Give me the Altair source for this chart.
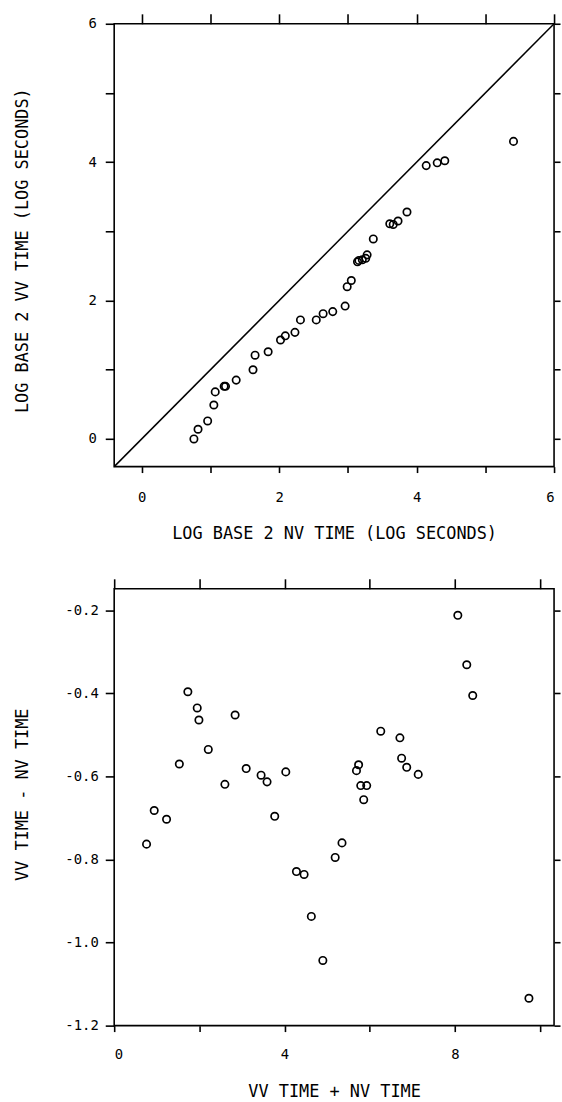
import altair as alt
import pandas as pd

# ---- Data ----
# Top panel: log2 NV time (x) vs log2 VV time (y)
nv_log = [0.76, 0.82, 0.96, 1.05, 1.07, 1.20, 1.22, 1.375, 1.62, 1.65, 1.84,
          2.02, 2.09, 2.23, 2.31, 2.54, 2.64, 2.78, 2.96, 2.99, 3.05, 3.14,
          3.16, 3.21, 3.26, 3.28, 3.37, 3.61, 3.66, 3.73, 3.86, 4.14, 4.30,
          4.41, 5.41]
vv_log = [0.00, 0.14, 0.26, 0.49, 0.68, 0.76, 0.76, 0.85, 1.00, 1.21, 1.26,
          1.43, 1.49, 1.54, 1.72, 1.72, 1.81, 1.84, 1.92, 2.20, 2.29, 2.56,
          2.58, 2.59, 2.61, 2.66, 2.89, 3.11, 3.10, 3.15, 3.28, 3.95, 3.99,
          4.02, 4.30]
# identity line endpoints (y = x)
diag = [-0.4, 6.0]

# Bottom panel: VV + NV (x) vs VV - NV (y)
sum_time = [0.76, 0.94, 1.23, 1.53, 1.73, 1.95, 1.99, 2.21, 2.60, 2.84, 3.10,
            3.45, 3.59, 3.77, 4.03, 4.28, 4.46, 4.63, 4.90, 5.19, 5.35, 5.69,
            5.74, 5.79, 5.86, 5.93, 6.26, 6.71, 6.75, 6.87, 7.14, 8.07, 8.28,
            8.42, 9.74]
diff_time = [-0.763, -0.682, -0.703, -0.570, -0.396, -0.435, -0.464, -0.535,
             -0.619, -0.452, -0.581, -0.597, -0.613, -0.696, -0.589, -0.829,
             -0.836, -0.937, -1.043, -0.795, -0.760, -0.586, -0.572, -0.622,
             -0.656, -0.622, -0.491, -0.507, -0.556, -0.578, -0.595, -0.212,
             -0.331, -0.405, -1.134]

top_ticks = [0, 1, 2, 3, 4, 5, 6]
bot_x_ticks = [0, 2, 4, 6, 8, 10]
bot_y_ticks = [-1.2, -1.0, -0.8, -0.6, -0.4, -0.2]

FONT = "DejaVu Sans Mono"

top_df = pd.DataFrame({"nv": nv_log, "vv": vv_log})
line_df = pd.DataFrame({"a": diag, "b": diag})
bot_df = pd.DataFrame({"s": sum_time, "d": diff_time})

W1, H1 = 443, 446
W2, H2 = 443, 440

base_axis = dict(grid=False, domain=False, tickColor="black", tickWidth=1.6,
                 labelFont=FONT, labelFontSize=14, labelColor="black",
                 titleFont=FONT, titleFontSize=17, titleColor="black",
                 titleFontWeight="normal")

xs1 = alt.Scale(domain=[-0.4, 6], nice=False, zero=False)
ys1 = alt.Scale(domain=[-0.4, 6], nice=False, zero=False)

even_expr = "datum.value % 2 === 0 ? datum.label : ''"

top_points = alt.Chart(top_df).mark_point(
    shape="circle", filled=False, color="black", size=55, strokeWidth=1.7, opacity=1
).encode(
    x=alt.X("nv:Q", scale=xs1, axis=alt.Axis(
        orient="bottom", values=top_ticks, labelExpr=even_expr, tickSize=6,
        labelPadding=18, title="LOG BASE 2 NV TIME (LOG SECONDS)",
        titleY=67, titleBaseline="middle", titleAlign="center", titleX=W1 / 2,
        **base_axis)),
    y=alt.Y("vv:Q", scale=ys1, axis=alt.Axis(
        orient="left", values=top_ticks, labelExpr=even_expr, tickSize=9,
        labelPadding=9, title="LOG BASE 2 VV TIME (LOG SECONDS)",
        titleX=-92, titleY=228, titleAngle=270, titleBaseline="middle",
        titleAlign="center", **base_axis)),
)

top_line = alt.Chart(line_df).mark_line(color="black", strokeWidth=1.5).encode(
    x=alt.X("a:Q", scale=xs1, axis=alt.Axis(
        orient="top", values=top_ticks, labels=False, tickSize=10, title=None,
        **base_axis)),
    y=alt.Y("b:Q", scale=ys1, axis=alt.Axis(
        orient="right", values=top_ticks, labels=False, tickSize=6, title=None,
        **base_axis)),
)

top = alt.layer(top_points, top_line).resolve_axis(
    x="independent", y="independent").properties(width=W1, height=H1)

xs2 = alt.Scale(domain=[0, 10.33], nice=False, zero=False)
ys2 = alt.Scale(domain=[-1.2, -0.148], nice=False, zero=False)

bot_points = alt.Chart(bot_df).mark_point(
    shape="circle", filled=False, color="black", size=55, strokeWidth=1.7, opacity=1
).encode(
    x=alt.X("s:Q", scale=xs2, axis=alt.Axis(
        orient="bottom", values=bot_x_ticks,
        labelExpr="datum.value % 4 === 0 ? datum.label : ''", tickSize=6,
        labelPadding=16, title="VV TIME + NV TIME",
        titleY=66, titleBaseline="middle", titleAlign="center", titleX=W2 / 2,
        **base_axis)),
    y=alt.Y("d:Q", scale=ys2, axis=alt.Axis(
        orient="left", values=bot_y_ticks, format=".1f",
        labelExpr="replace(datum.label, '\u2212', '-')", tickSize=9,
        labelPadding=7, title="VV TIME - NV TIME",
        titleX=-92, titleY=207, titleAngle=270, titleBaseline="middle",
        titleAlign="center", **base_axis)),
)

bot_frame = alt.Chart(bot_df).mark_point(opacity=0).encode(
    x=alt.X("s:Q", scale=xs2, axis=alt.Axis(
        orient="top", values=bot_x_ticks, labels=False, tickSize=10, title=None,
        **base_axis)),
    y=alt.Y("d:Q", scale=ys2, axis=alt.Axis(
        orient="right", values=bot_y_ticks, labels=False, tickSize=6, title=None,
        **base_axis)),
)

bottom = alt.layer(bot_points, bot_frame).resolve_axis(
    x="independent", y="independent").properties(width=W2, height=H2)

chart = alt.vconcat(top, bottom, spacing=35).properties(
    padding={"left": 13, "top": 8, "right": 0, "bottom": 0},
    background="white",
).configure_view(stroke="black", strokeWidth=1.6)

chart.save("out.html", embed_options={"renderer": "svg", "actions": False})
